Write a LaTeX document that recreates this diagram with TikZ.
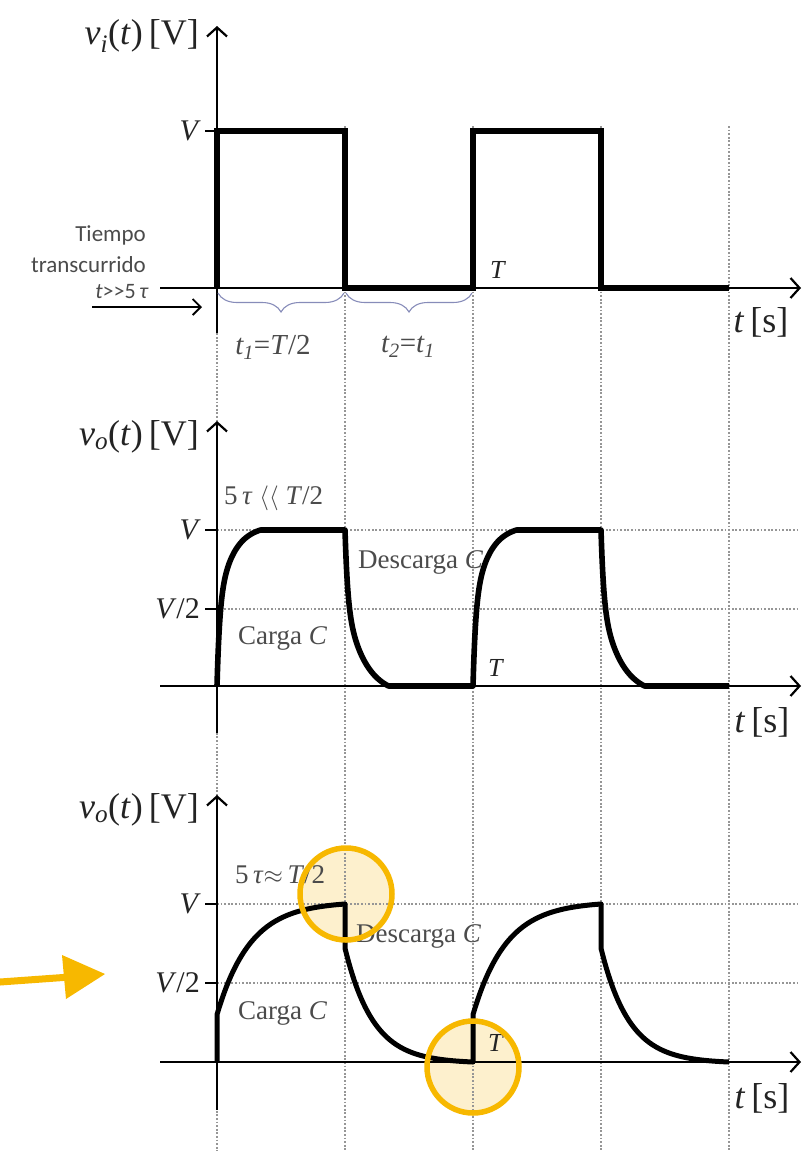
\documentclass[tikz,border=0pt]{standalone}
\usepackage{fontspec}
\setmainfont{Liberation Serif}
\newfontfamily\sansc{Carlito}
\usetikzlibrary{arrows.meta,decorations.pathreplacing}
\definecolor{gridc}{RGB}{150,150,150}
\definecolor{bracec}{RGB}{135,140,185}
\definecolor{hlo}{RGB}{247,184,0}
\definecolor{hlf}{RGB}{253,240,205}
\definecolor{txt}{RGB}{35,35,35}
\definecolor{txtg}{RGB}{75,75,75}
\newcommand{\fsz}[1]{\fontsize{#1}{#1}\selectfont}
\tikzset{
  axisarrow/.style={line width=2.4pt,-{Straight Barb[length=9pt,width=20pt,line width=2.2pt]}},
  gridline/.style={gridc,line width=1.7pt,dash pattern=on 1.7pt off 1.9pt},
  tickmark/.style={line width=2.2pt},
  sqwave/.style={line width=6.2pt,line join=miter},
  rccurve/.style={line width=5.6pt,line join=round},
  rccurveb/.style={line width=5pt,line join=round},
  bracestyle/.style={bracec,line width=1.1pt,decorate,decoration={brace,mirror,amplitude=19pt}},
  axlab/.style={font=\fsz{36},text=txt,inner sep=0pt},
  lvlab/.style={font=\fsz{30},text=txt,inner sep=0pt},
  tlab/.style={font=\fsz{26},text=txt,inner sep=0pt},
  sublab/.style={font=\fsz{29},text=txtg,inner sep=0pt},
  annot/.style={font=\fsz{27},text=txtg,inner sep=0pt},
  sans/.style={font=\sansc\fsz{23},text=txtg,inner sep=0pt},
  hlring/.style={hlo,line width=5.5pt},
}
\begin{document}
\begin{tikzpicture}[x=1pt,y=-1pt]
\useasboundingbox (0,0) rectangle (808,1151);
% highlight fills (behind)
\fill[hlf] (346,894) circle[radius=46pt];
\fill[hlf] (473,1067) circle[radius=46pt];
% grid
\foreach \gx in {345,473,601,729} \draw[gridline] (\gx,126) -- (\gx,1151);
\draw[gridline] (217,290) -- (217,1151);
\foreach \gy in {530,609,904,983} \draw[gridline] (217,\gy) -- (797,\gy);
% ---------- top panel ----------
\draw[axisarrow] (160,288) -- (801,288);
\draw[axisarrow] (217,333) -- (217,26);
\draw[tickmark] (205,131) -- (217,131);
\draw[sqwave] (217,288) -- (217,131) -- (345,131) -- (345,288) -- (473,288)
  -- (473,131) -- (601,131) -- (601,288) -- (729,288);
\draw[bracestyle] (218,293) -- (344,293);
\draw[bracestyle] (346,293) -- (472,293);
\draw[line width=1.8pt,-{Straight Barb[length=8pt,width=16pt,line width=1.8pt]}] (92,307) -- (202,307);
\node[axlab,anchor=east] (vi) at (199,36) {\textit{v}\textsubscript{\textit{i}}(\textit{t})\,[V]};
\node[lvlab,anchor=east] (vtop) at (201,131) {\textit{V}};
\node[tlab] (ttop) at (498,270) {\textit{T}};
\node[axlab] (tstop) at (761,322) {\textit{t}\,[s]};
\node[sans,anchor=east] (tiempo) at (146,235) {Tiempo};
\node[sans,anchor=east] (transc) at (146,265) {transcurrido};
\node[sans,anchor=east,font=\sansc\fsz{22}] (tgg) at (149,292) {\textit{t}>>5\,\textit{τ}};
\node[sublab] (t1) at (273,347) {\textit{t\textsubscript{1}}=\textit{T}/2};
\node[sublab] (t2) at (408,347) {\textit{t\textsubscript{2}}=\textit{t\textsubscript{1}}};
% ---------- middle panel ----------
\draw[axisarrow] (160,686) -- (801,686);
\draw[axisarrow] (217,733) -- (217,421);
\draw[tickmark] (205,530) -- (217,530);
\draw[tickmark] (205,609) -- (217,609);
\begin{scope}[shift={(217,686)},x=128pt,y=156pt]
\draw[rccurve] (0,0)
  -- plot[domain=0:0.34,samples=90] (\x,{1-0.5*exp(-\x/0.02)-0.5*(exp(-\x/0.12)-0.0588)/0.9412})
  -- (1,1)
  -- plot[domain=0:0.34,samples=90] ({1+\x},{0.45*exp(-\x/0.02)+0.55*(exp(-\x/0.15)-0.1037)/0.8963})
  -- (2,0)
  -- plot[domain=0:0.34,samples=90] ({2+\x},{1-0.5*exp(-\x/0.02)-0.5*(exp(-\x/0.12)-0.0588)/0.9412})
  -- (3,1)
  -- plot[domain=0:0.34,samples=90] ({3+\x},{0.45*exp(-\x/0.02)+0.55*(exp(-\x/0.15)-0.1037)/0.8963})
  -- (4,0);
\end{scope}
\node[axlab,anchor=east] (vo1) at (199,437) {\textit{v}\textsubscript{\textit{o}}(\textit{t})\,[V]};
\node[lvlab,anchor=east] (vmid) at (201,530) {\textit{V}};
\node[lvlab,anchor=east] (v2mid) at (200,609) {\textit{V}/2};
\node[annot,anchor=west] (c1) at (224,498) {5\,\textit{τ} $\langle\langle$ \textit{T}/2};
\node[annot,anchor=west] (d1) at (358,562) {Descarga \textit{C}};
\node[annot,anchor=west] (ca1) at (238,638) {Carga \textit{C}};
\node[tlab] (tmid) at (496,668) {\textit{T}};
\node[axlab] (tsmid) at (762,722) {\textit{t}\,[s]};
% ---------- bottom panel ----------
\draw[axisarrow] (160,1062) -- (801,1062);
\draw[axisarrow] (217,1110) -- (217,795);
\draw[tickmark] (205,904) -- (217,904);
\draw[tickmark] (205,983) -- (217,983);
\begin{scope}[shift={(217,1062)},x=128pt,y=158pt]
\draw[rccurveb] (0,0) -- (0,0.3)
  -- plot[domain=0:1,samples=70] (\x,{1-0.7*(exp(-\x/0.26)-0.02137)/0.97863})
  -- (1,1) -- (1,0.72)
  -- plot[domain=0:1,samples=70] ({1+\x},{0.72*(exp(-\x/0.22)-0.01061)/0.98939})
  -- (2,0) -- (2,0.3)
  -- plot[domain=0:1,samples=70] ({2+\x},{1-0.7*(exp(-\x/0.26)-0.02137)/0.97863})
  -- (3,1) -- (3,0.72)
  -- plot[domain=0:1,samples=70] ({3+\x},{0.72*(exp(-\x/0.22)-0.01061)/0.98939});
\end{scope}
\node[axlab,anchor=east] (vo2) at (199,810) {\textit{v}\textsubscript{\textit{o}}(\textit{t})\,[V]};
\node[lvlab,anchor=east] (vbot) at (201,904) {\textit{V}};
\node[lvlab,anchor=east] (v2bot) at (200,983) {\textit{V}/2};
\node[annot,anchor=west] (c2) at (235,875) {5\,\textit{τ}$\approx$\,\textit{T}/2};
\node[annot,anchor=west] (d2) at (356,936) {Descarga \textit{C}};
\node[annot,anchor=west] (ca2) at (238,1013) {Carga \textit{C}};
\node[tlab] (tbot) at (496,1043) {\textit{T}};
\node[axlab] (tsbot) at (762,1098) {\textit{t}\,[s]};
% ---------- highlight rings and arrow ----------
\draw[hlring] (346,894) circle[radius=46pt];
\draw[hlring] (473,1067) circle[radius=46pt];
\coordinate (hlstart) at (0,982);
\coordinate (hlend) at (70,977);
\draw[hlo,line width=7pt] (hlstart) -- (hlend);
\fill[hlo] (62,955) -- (105,974) -- (66,999) -- cycle;
\end{tikzpicture}
\end{document}
